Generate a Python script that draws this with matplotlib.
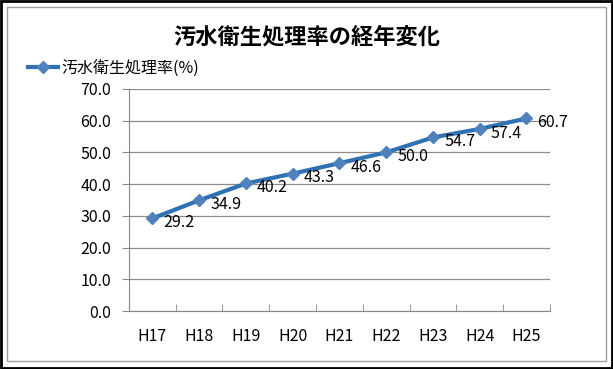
import matplotlib.pyplot as plt
from matplotlib.patches import Rectangle

plt.rcParams['font.family'] = ['Noto Sans CJK JP', 'DejaVu Sans']

# data
years = ["H17", "H18", "H19", "H20", "H21", "H22", "H23", "H24", "H25"]
rates = [29.2, 34.9, 40.2, 43.3, 46.6, 50.0, 54.7, 57.4, 60.7]

fig = plt.figure(figsize=(6.13, 3.69), dpi=100)

# outer black frame and inner gray frame
fig.patches.append(Rectangle((0.002, 0.003), 0.996, 0.994, transform=fig.transFigure,
                             fill=False, edgecolor='black', linewidth=2))
fig.patches.append(Rectangle((0.011, 0.022), 0.978, 0.958, transform=fig.transFigure,
                             fill=False, edgecolor='#a0a0a0', linewidth=1))

ax = fig.add_axes([0.2104, 0.157, 0.6865, 0.602])

x = list(range(len(years)))
line, = ax.plot(x, rates, color='#2f72b4', linewidth=3, marker='D', markersize=6,
                markerfacecolor='#4f81bd', markeredgecolor='#4f81bd',
                label='汚水衛生処理率(%)')

for xi, v in zip(x, rates):
    ax.annotate(f"{v:.1f}", (xi, v), xytext=(8, -3), textcoords='offset points',
                ha='left', va='center', fontsize=11.5)

ax.set_xlim(-0.5, len(years) - 0.5)
ax.set_ylim(0, 70)
ax.set_yticks(range(0, 71, 10))
ax.set_yticklabels([f"{v:.1f}" for v in range(0, 71, 10)], fontsize=11.5)
ax.set_xticks(x)
ax.set_xticklabels(years, fontsize=11.5)
ax.set_xticks([i - 0.5 for i in range(len(years) + 1)], minor=True)
ax.tick_params(axis='x', which='major', length=0, pad=12)
ax.tick_params(axis='x', which='minor', length=5, color='#888888', direction='in')
ax.tick_params(axis='y', length=5, color='#888888', pad=8)

ax.grid(axis='y', color='#8c8c8c', linewidth=0.9)
ax.set_axisbelow(True)
for s in ['top', 'right']:
    ax.spines[s].set_visible(False)
for s in ['left', 'bottom']:
    ax.spines[s].set_color('#888888')

fig.text(0.5, 0.9, '汚水衛生処理率の経年変化', ha='center', va='center',
         fontsize=16, fontweight='bold')

fig.legend(handles=[line], loc='center left', bbox_to_anchor=(0.022, 0.815),
           frameon=False, fontsize=11.5, handlelength=1.9, handletextpad=0.2)

fig.savefig('out.png', dpi=100)
